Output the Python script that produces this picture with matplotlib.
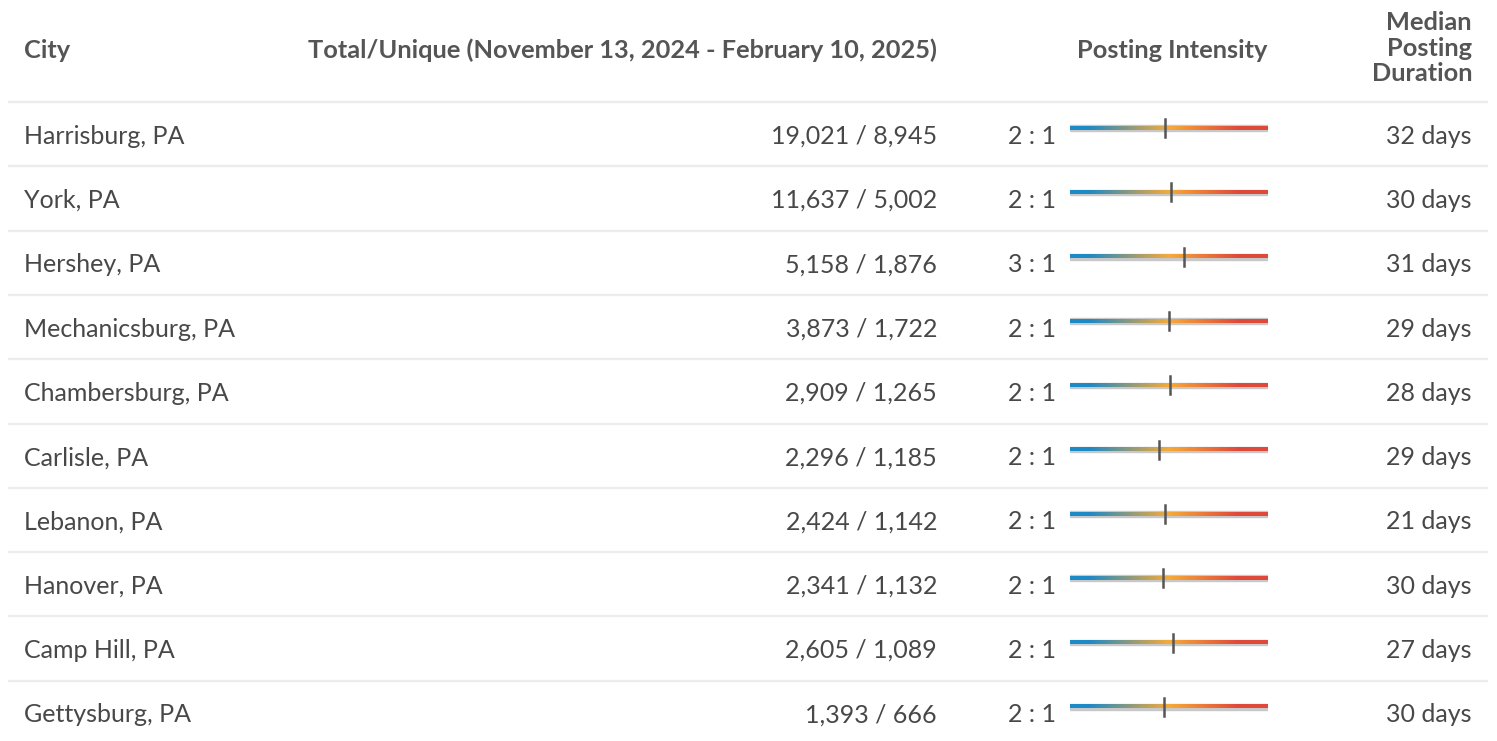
import matplotlib
matplotlib.use('Agg')
import matplotlib.pyplot as plt
import numpy as np
from matplotlib.colors import LinearSegmentedColormap

plt.rcParams['font.family'] = ['Lato', 'DejaVu Sans']

# 表格数据
cities = ['Harrisburg, PA', 'York, PA', 'Hershey, PA', 'Mechanicsburg, PA',
          'Chambersburg, PA', 'Carlisle, PA', 'Lebanon, PA', 'Hanover, PA',
          'Camp Hill, PA', 'Gettysburg, PA']
totals = [19021, 11637, 5158, 3873, 2909, 2296, 2424, 2341, 2605, 1393]
uniques = [8945, 5002, 1876, 1722, 1265, 1185, 1142, 1132, 1089, 666]
durations = [32, 30, 31, 29, 28, 29, 21, 30, 27, 30]

col_city = 'City'
col_total = 'Total/Unique (November 13, 2024 - February 10, 2025)'
col_intensity = 'Posting Intensity'
col_duration = 'Median\nPosting\nDuration'

# 强度比例 = total / unique
ratios = [t / u for t, u in zip(totals, uniques)]

W, H = 1497, 741
fig = plt.figure(figsize=(W / 100, H / 100), dpi=100)
ax = fig.add_axes([0, 0, 1, 1])
ax.set_xlim(0, W)
ax.set_ylim(H, 0)
ax.axis('off')

txt_color = '#484848'
head_color = '#555555'
line_color = '#ececec'
body_size = 18
head_size = 18.3

header_h = 102
row_h = 64.3

# 表头
ax.text(24, 50, col_city, ha='left', va='center', fontsize=head_size,
        fontweight='bold', color=head_color)
ax.text(937, 50, col_total, ha='right', va='center', fontsize=head_size,
        fontweight='bold', color=head_color)
ax.text(1267, 50, col_intensity, ha='right', va='center', fontsize=head_size,
        fontweight='bold', color=head_color)
ax.text(1472, 48, col_duration, ha='right', va='center', fontsize=head_size,
        fontweight='bold', color=head_color, linespacing=1.12)

# 渐变色条
cmap = LinearSegmentedColormap.from_list('intensity', [
    (0.0, '#1a8acc'), (0.1, '#1f8ac4'), (0.5, '#f7aa38'),
    (0.85, '#e0493a'), (1.0, '#e0483a')])
grad = np.linspace(0, 1, 256).reshape(1, -1)

# 比例尺范围
lo, hi = -1.08, 5.6
bar_x0, bar_x1 = 1070, 1268

for i, city in enumerate(cities):
    top = header_h + row_h * i
    yc = top + row_h / 2 + 2
    ax.plot([8, 1488], [top, top], color=line_color, lw=1.6, solid_capstyle='butt')
    ax.text(24, yc, city, ha='left', va='center', fontsize=body_size, color=txt_color)
    ax.text(937, yc, f'{totals[i]:,} / {uniques[i]:,}', ha='right', va='center',
            fontsize=body_size, color=txt_color)
    ax.text(1056, yc, f'{round(ratios[i])} : 1', ha='right', va='center',
            fontsize=body_size, color=txt_color)
    ax.text(1472, yc, f'{durations[i]} days', ha='right', va='center',
            fontsize=body_size, color=txt_color)

    # 每一行的小坐标轴
    by = yc - 8
    y0 = 1 - (by + 11) / H
    bax = fig.add_axes([bar_x0 / W, y0, (bar_x1 - bar_x0) / W, 22 / H])
    bax.set_xlim(lo, hi)
    bax.set_ylim(-1, 1)
    bax.axis('off')
    bax.axhspan(-0.25, 0.25, color='#c8c8c8', zorder=1)
    bax.imshow(grad, cmap=cmap, aspect='auto', extent=(lo, hi, -0.15, 0.15), zorder=2)
    bax.plot([ratios[i], ratios[i]], [-0.82, 0.82], color='#555555', lw=1.8, zorder=3)

fig.savefig('out.png', dpi=100)
